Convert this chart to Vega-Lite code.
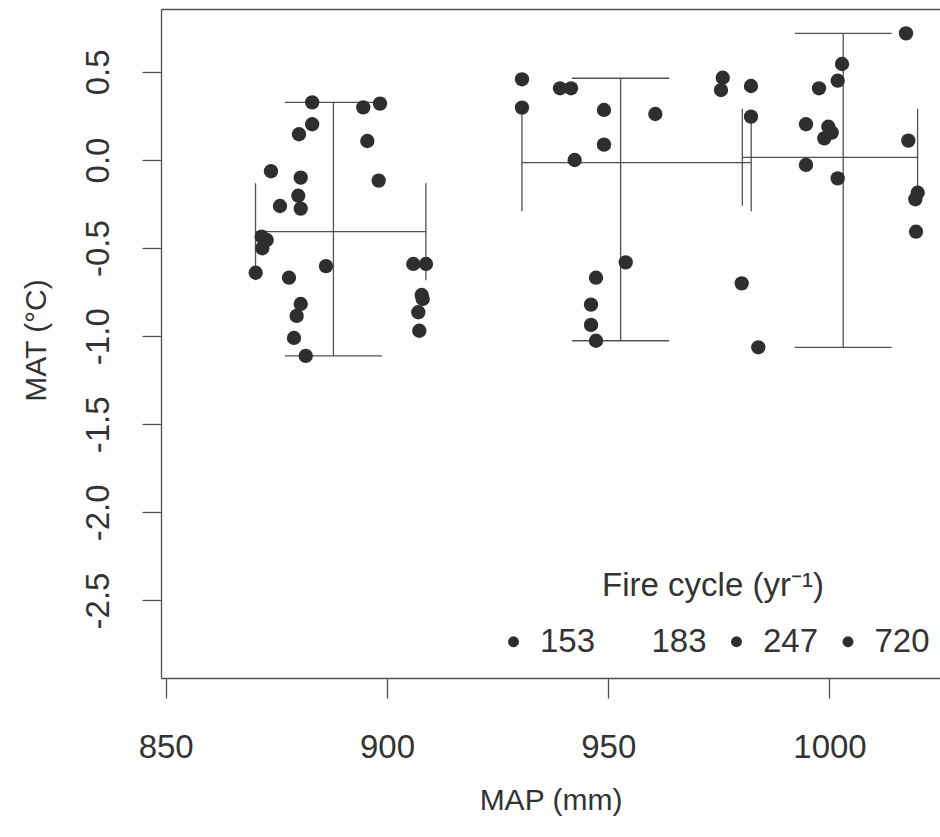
{
  "$schema": "https://vega.github.io/schema/vega-lite/v6.json",
  "width": 779,
  "height": 669,
  "autosize": {"type": "none"},
  "padding": {"left": 161, "top": 9, "right": 0, "bottom": 159},
  "background": "white",
  "config": {
    "view": {"stroke": null},
    "font": "Liberation Sans"
  },
  "datasets": {
    "points": [
      {"map": 883.1, "mat": 0.327, "cycle": "153"},
      {"map": 894.65, "mat": 0.299, "cycle": "153"},
      {"map": 898.43, "mat": 0.32, "cycle": "153"},
      {"map": 883.1, "mat": 0.203, "cycle": "153"},
      {"map": 880.12, "mat": 0.146, "cycle": "153"},
      {"map": 895.56, "mat": 0.108, "cycle": "153"},
      {"map": 898.13, "mat": -0.117, "cycle": "153"},
      {"map": 873.79, "mat": -0.064, "cycle": "153"},
      {"map": 880.51, "mat": -0.1, "cycle": "153"},
      {"map": 879.96, "mat": -0.203, "cycle": "153"},
      {"map": 875.83, "mat": -0.261, "cycle": "153"},
      {"map": 880.51, "mat": -0.276, "cycle": "153"},
      {"map": 871.69, "mat": -0.435, "cycle": "153"},
      {"map": 872.82, "mat": -0.454, "cycle": "153"},
      {"map": 871.83, "mat": -0.501, "cycle": "153"},
      {"map": 870.34, "mat": -0.64, "cycle": "153"},
      {"map": 877.86, "mat": -0.668, "cycle": "153"},
      {"map": 886.22, "mat": -0.602, "cycle": "153"},
      {"map": 880.51, "mat": -0.817, "cycle": "153"},
      {"map": 879.6, "mat": -0.885, "cycle": "153"},
      {"map": 878.99, "mat": -1.01, "cycle": "153"},
      {"map": 881.64, "mat": -1.112, "cycle": "153"},
      {"map": 905.95, "mat": -0.59, "cycle": "153"},
      {"map": 908.82, "mat": -0.59, "cycle": "153"},
      {"map": 907.85, "mat": -0.766, "cycle": "153"},
      {"map": 908.08, "mat": -0.789, "cycle": "153"},
      {"map": 907.08, "mat": -0.864, "cycle": "153"},
      {"map": 907.31, "mat": -0.969, "cycle": "153"},
      {"map": 930.51, "mat": 0.458, "cycle": "247"},
      {"map": 930.51, "mat": 0.297, "cycle": "247"},
      {"map": 939.1, "mat": 0.407, "cycle": "247"},
      {"map": 941.59, "mat": 0.407, "cycle": "247"},
      {"map": 949.04, "mat": 0.284, "cycle": "247"},
      {"map": 960.64, "mat": 0.261, "cycle": "247"},
      {"map": 949.04, "mat": 0.087, "cycle": "247"},
      {"map": 942.42, "mat": 0.0, "cycle": "247"},
      {"map": 953.95, "mat": -0.581, "cycle": "247"},
      {"map": 947.24, "mat": -0.668, "cycle": "247"},
      {"map": 946.11, "mat": -0.821, "cycle": "247"},
      {"map": 946.11, "mat": -0.936, "cycle": "247"},
      {"map": 947.24, "mat": -1.026, "cycle": "247"},
      {"map": 975.87, "mat": 0.467, "cycle": "247"},
      {"map": 975.48, "mat": 0.397, "cycle": "247"},
      {"map": 982.26, "mat": 0.42, "cycle": "247"},
      {"map": 982.26, "mat": 0.246, "cycle": "247"},
      {"map": 1017.29, "mat": 0.719, "cycle": "720"},
      {"map": 1002.83, "mat": 0.545, "cycle": "720"},
      {"map": 1001.85, "mat": 0.45, "cycle": "720"},
      {"map": 997.63, "mat": 0.407, "cycle": "720"},
      {"map": 994.69, "mat": 0.203, "cycle": "720"},
      {"map": 999.73, "mat": 0.189, "cycle": "720"},
      {"map": 1000.5, "mat": 0.155, "cycle": "720"},
      {"map": 998.83, "mat": 0.123, "cycle": "720"},
      {"map": 1017.81, "mat": 0.11, "cycle": "720"},
      {"map": 994.69, "mat": -0.028, "cycle": "720"},
      {"map": 1001.85, "mat": -0.104, "cycle": "720"},
      {"map": 1019.93, "mat": -0.186, "cycle": "720"},
      {"map": 1019.39, "mat": -0.223, "cycle": "720"},
      {"map": 1019.55, "mat": -0.407, "cycle": "720"},
      {"map": 980.16, "mat": -0.7, "cycle": "720"},
      {"map": 983.91, "mat": -1.063, "cycle": "720"}
    ],
    "bars": [
      {"cycle": "153", "map": 887.9, "mat": -0.407, "map_min": 870.3, "map_max": 908.8, "mat_min": -1.112, "mat_max": 0.327},
      {"cycle": "247", "map": 952.8, "mat": -0.015, "map_min": 930.5, "map_max": 982.3, "mat_min": -1.026, "mat_max": 0.464},
      {"cycle": "720", "map": 1003.1, "mat": 0.015, "map_min": 980.3, "map_max": 1019.9, "mat_min": -1.063, "mat_max": 0.719}
    ]
  },
  "resolve": {"axis": {"x": "independent", "y": "independent"}},
  "layer": [
    {
      "data": {"name": "bars"},
      "mark": {"type": "rule", "color": "#505050", "strokeWidth": 1.3},
      "encoding": {
        "x": {
          "field": "map_min", "type": "quantitative",
          "scale": {"domain": [848.94, 1024.97], "nice": false, "zero": false},
          "axis": {
            "orient": "bottom",
            "values": [850, 900, 950, 1000], "format": "d",
            "grid": false,
            "domainColor": "#505050", "domainWidth": 1.3,
            "tickColor": "#505050", "tickWidth": 1.3, "tickSize": 20,
            "labelFontSize": 33, "labelColor": "#333333", "labelBaseline": "top", "labelAlign": "center",
            "labelPadding": 33, "labelFlush": false, "labelOverlap": false, "labelBound": false,
            "title": "MAP (mm)", "titleFontSize": 30, "titleFontWeight": "normal", "titleColor": "#333333",
            "titleBaseline": "alphabetic", "titleY": 131
          }
        },
        "x2": {"field": "map_max"},
        "y": {
          "field": "mat", "type": "quantitative",
          "scale": {"domain": [-2.94, 0.857], "nice": false, "zero": false},
          "axis": {
            "orient": "left",
            "values": [-2.5, -2, -1.5, -1, -0.5, 0, 0.5], "format": ".1f",
            "labelExpr": "replace(datum.label, '\u2212', '-')",
            "grid": false,
            "domainColor": "#505050", "domainWidth": 1.3,
            "tickColor": "#505050", "tickWidth": 1.3, "tickSize": 19,
            "labelFontSize": 33, "labelColor": "#333333", "labelAngle": 270, "labelAlign": "center",
            "labelBaseline": "alphabetic", "labelPadding": 34, "labelFlush": false, "labelOverlap": false, "labelBound": false,
            "title": "MAT (°C)", "titleFontSize": 30, "titleFontWeight": "normal", "titleColor": "#333333",
            "titleAngle": 270, "titleAlign": "center", "titleBaseline": "alphabetic", "titleX": -116, "titleY": 331
          }
        }
      }
    },
    {
      "data": {"name": "bars"},
      "mark": {"type": "rule", "color": "#505050", "strokeWidth": 1.3},
      "encoding": {
        "x": {
          "field": "map", "type": "quantitative",
          "scale": {"domain": [848.94, 1024.97], "nice": false, "zero": false},
          "axis": {"orient": "top", "labels": false, "ticks": false, "grid": false, "title": null, "domainColor": "#505050", "domainWidth": 1.3}
        },
        "y": {
          "field": "mat_min", "type": "quantitative",
          "scale": {"domain": [-2.94, 0.857], "nice": false, "zero": false},
          "axis": null
        },
        "y2": {"field": "mat_max"}
      }
    },
    {
      "data": {"name": "bars"},
      "mark": {"type": "tick", "orient": "horizontal", "size": 97, "thickness": 1.3, "color": "#505050", "opacity": 1},
      "encoding": {
        "x": {"field": "map", "type": "quantitative", "scale": {"domain": [848.94, 1024.97], "nice": false, "zero": false}, "axis": null},
        "y": {"field": "mat_max", "type": "quantitative", "scale": {"domain": [-2.94, 0.857], "nice": false, "zero": false}, "axis": null}
      }
    },
    {
      "data": {"name": "bars"},
      "mark": {"type": "tick", "orient": "horizontal", "size": 97, "thickness": 1.3, "color": "#505050", "opacity": 1},
      "encoding": {
        "x": {"field": "map", "type": "quantitative", "scale": {"domain": [848.94, 1024.97], "nice": false, "zero": false}, "axis": null},
        "y": {"field": "mat_min", "type": "quantitative", "scale": {"domain": [-2.94, 0.857], "nice": false, "zero": false}, "axis": null}
      }
    },
    {
      "data": {"name": "bars"},
      "mark": {"type": "tick", "orient": "vertical", "size": 97, "thickness": 1.3, "color": "#505050", "opacity": 1},
      "encoding": {
        "x": {"field": "map_min", "type": "quantitative", "scale": {"domain": [848.94, 1024.97], "nice": false, "zero": false}, "axis": null},
        "y": {"field": "mat", "type": "quantitative", "scale": {"domain": [-2.94, 0.857], "nice": false, "zero": false}, "axis": null}
      }
    },
    {
      "data": {"name": "bars"},
      "mark": {"type": "tick", "orient": "vertical", "size": 97, "thickness": 1.3, "color": "#505050", "opacity": 1},
      "encoding": {
        "x": {"field": "map_max", "type": "quantitative", "scale": {"domain": [848.94, 1024.97], "nice": false, "zero": false}, "axis": null},
        "y": {"field": "mat", "type": "quantitative", "scale": {"domain": [-2.94, 0.857], "nice": false, "zero": false}, "axis": null}
      }
    },
    {
      "data": {"name": "points"},
      "mark": {"type": "circle", "size": 205, "opacity": 1, "stroke": null},
      "encoding": {
        "x": {"field": "map", "type": "quantitative", "scale": {"domain": [848.94, 1024.97], "nice": false, "zero": false}, "axis": null},
        "y": {"field": "mat", "type": "quantitative", "scale": {"domain": [-2.94, 0.857], "nice": false, "zero": false}, "axis": null},
        "color": {
          "field": "cycle", "type": "nominal",
          "scale": {"domain": ["153", "183", "247", "720"], "range": ["#2e2e2e", "#ffffff", "#2e2e2e", "#2e2e2e"]},
          "legend": {
            "orient": "none", "legendX": 336, "legendY": 561,
            "direction": "horizontal", "columns": 4,
            "title": "Fire cycle (yr⁻¹)",
            "titleFontSize": 33, "titleFontWeight": "normal", "titleColor": "#333333",
            "titleAnchor": "middle", "titleAlign": "center", "titlePadding": 22, "titleLimit": 500,
            "labelFontSize": 33, "labelColor": "#333333", "labelOffset": 10, "labelLimit": 0,
            "columnPadding": 12.5,
            "symbolType": "circle", "symbolSize": 120, "symbolStrokeWidth": 0, "symbolOpacity": 1
          }
        }
      }
    }
  ]
}
